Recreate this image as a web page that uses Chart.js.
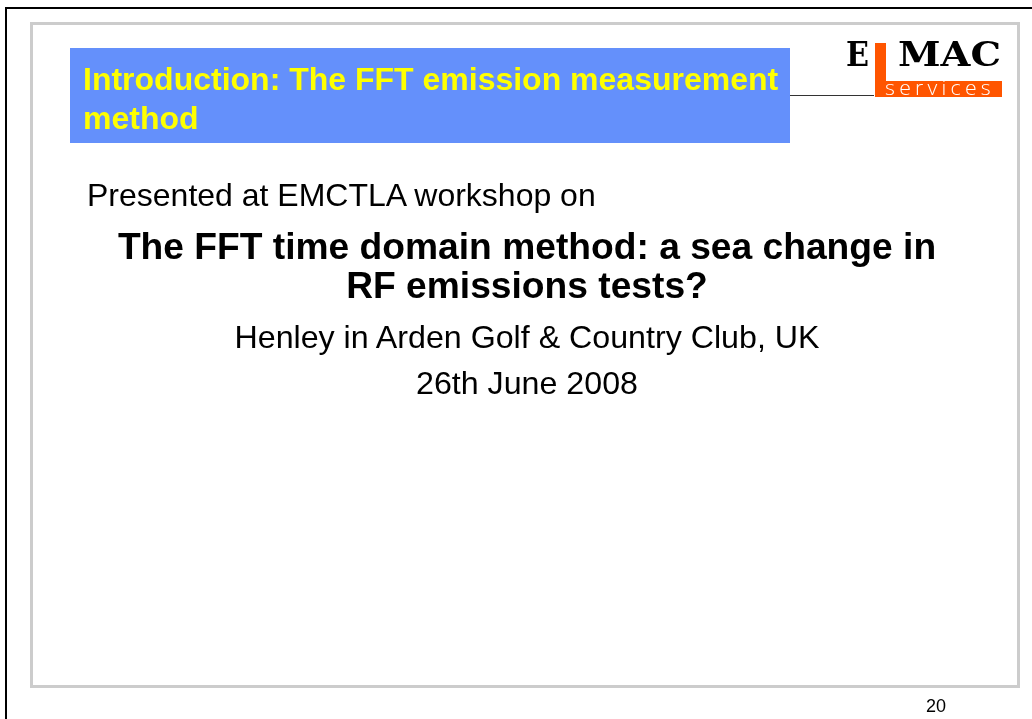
<!DOCTYPE html>
<html>
<head>
<meta charset="utf-8">
<script src="https://cdn.jsdelivr.net/npm/chart.js@4/dist/chart.umd.min.js"></script>
<style>
  html, body { margin: 0; padding: 0; background: #ffffff; }
  #slide { position: relative; width: 1032px; height: 719px; overflow: hidden; background: #fff; }
  #bg { position: absolute; left: 0; top: 0; }
  .t { position: absolute; white-space: nowrap; font-family: "Liberation Sans", Arial, sans-serif; color: #000; line-height: 1; }
</style>
</head>
<body>
<div id="slide">
  <canvas id="bg" width="1032" height="719"></canvas>
</div>
<script>
// ---- slide content (text) ----
const titleLines = ["Introduction: The FFT emission measurement", "method"];
const introLine = ["Presented at EMCTLA workshop on"];
const headlineLines = ["The FFT time domain method: a sea change in", "RF emissions tests?"];
const venueLines = ["Henley in Arden Golf & Country Club, UK", "26th June 2008"];
const logoLetters = ["E", "MAC"];
const logoTagline = ["services"];
const pageNumber = ["20"];

// ---- frame / decoration drawn by a Chart.js plugin ----
const slideFramePlugin = {
  id: 'slideFrame',
  beforeDraw(chart) {
    const c = chart.ctx;
    c.save();
    c.fillStyle = '#ffffff';
    c.fillRect(0, 0, chart.width, chart.height);
    // outer black border (top + left)
    c.fillStyle = '#000000';
    c.fillRect(5, 7, chart.width - 5, 2);
    c.fillRect(5, 7, 2, chart.height - 7);
    // gray frame
    c.strokeStyle = '#cccccc';
    c.lineWidth = 3;
    c.strokeRect(31.5, 23.5, 987, 663);
    // blue title box
    c.fillStyle = '#6490fb';
    c.fillRect(70, 48, 720, 95);
    // connecting line
    c.fillStyle = '#333333';
    c.fillRect(790, 95, 84, 1);
    // logo orange L
    c.fillStyle = '#ff5500';
    c.fillRect(875, 43, 11, 54);
    c.fillRect(875, 81, 127, 16);
    c.restore();
  }
};

new Chart(document.getElementById('bg'), {
  type: 'bar',
  data: { labels: [], datasets: [] },
  options: {
    responsive: false,
    animation: false,
    events: [],
    layout: { padding: 0 },
    plugins: { legend: { display: false }, title: { display: false }, tooltip: { enabled: false } },
    scales: { x: { display: false }, y: { display: false } }
  },
  plugins: [slideFramePlugin]
});

// ---- text placement ----
const slide = document.getElementById('slide');
function addText(str, opts) {
  const d = document.createElement('div');
  d.className = 't';
  d.textContent = str;
  Object.assign(d.style, opts.style || {});
  slide.appendChild(d);
  const h = d.getBoundingClientRect();
  const probe = document.createElement('span');
  probe.style.display = 'inline-block';
  probe.style.width = '0';
  probe.style.height = '0';
  probe.style.verticalAlign = 'baseline';
  d.appendChild(probe);
  const base = probe.getBoundingClientRect().top - h.top;
  const w = h.width;
  let left = opts.x;
  if (opts.align === 'center') left = opts.x - w / 2;
  if (opts.align === 'right') left = opts.x - w;
  if (opts.fitWidth) {
    const s = opts.fitWidth / w;
    d.style.transformOrigin = '0 0';
    d.style.transform = 'scaleX(' + s + ')';
  }
  d.style.left = left + 'px';
  d.style.top = (opts.baseline - base) + 'px';
  return d;
}

titleLines.forEach((s, i) => addText(s, {
  x: 83, baseline: 90 + i * 39,
  style: { fontSize: '32px', fontWeight: 'bold', color: '#ffff00' }
}));
introLine.forEach((s) => addText(s, {
  x: 87, baseline: 206,
  style: { fontSize: '32px' }
}));
headlineLines.forEach((s, i) => addText(s, {
  x: 527, align: 'center', baseline: 259 + i * 39,
  style: { fontSize: '37.2px', fontWeight: 'bold' }
}));
venueLines.forEach((s, i) => addText(s, {
  x: 527, align: 'center', baseline: 348 + i * 46,
  style: { fontSize: '32.2px' }
}));
addText(logoLetters[0], {
  x: 846, baseline: 66, fitWidth: 23,
  style: { fontSize: '33px', fontWeight: 'bold', fontFamily: '"DejaVu Serif", "Liberation Serif", serif' }
});
addText(logoLetters[1], {
  x: 898, baseline: 66, fitWidth: 103,
  style: { fontSize: '33px', fontWeight: 'bold', fontFamily: '"DejaVu Serif", "Liberation Serif", serif' }
});
addText(logoTagline[0], {
  x: 885, baseline: 95, fitWidth: 110,
  style: { fontSize: '20px', fontWeight: '300', color: '#ffffff', letterSpacing: '4px', fontFamily: '"Open Sans", Lato, sans-serif' }
});
addText(pageNumber[0], {
  x: 926, baseline: 712,
  style: { fontSize: '18px' }
});
</script>
</body>
</html>
